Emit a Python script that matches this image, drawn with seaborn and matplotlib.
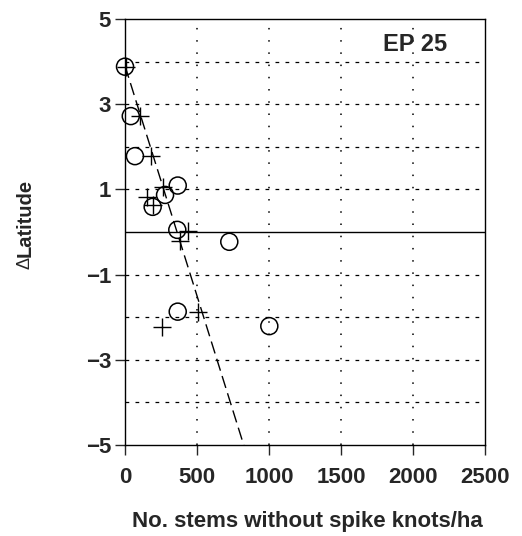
import numpy as np
import pandas as pd
import seaborn as sns
import matplotlib.pyplot as plt

# open circles
circle_x = [0, 40, 69, 366, 278, 192, 363, 724, 366, 1002]
circle_y = [3.88, 2.72, 1.78, 1.09, 0.87, 0.59, 0.05, -0.23, -1.87, -2.21]
# plus markers
plus_x = [10, 104, 178, 266, 150, 192, 440, 382, 509, 255]
plus_y = [3.88, 2.72, 1.79, 1.06, 0.83, 0.63, 0.02, -0.20, -1.89, -2.22]
# fitted line
fit_intercept = 3.9
fit_slope = -0.0108
fit_x = [0, 825]

sns.set_style("white")
plt.rcParams["font.family"] = ["Liberation Sans", "DejaVu Sans"]

fig = plt.figure(figsize=(5.22, 5.36), dpi=100)
ax = fig.add_axes([0.2395, 0.1698, 0.6897, 0.7948])

circles = pd.DataFrame({"x": circle_x, "y": circle_y})
pluses = pd.DataFrame({"x": plus_x, "y": plus_y})
fit = pd.DataFrame({"x": fit_x, "y": [fit_intercept + fit_slope * v for v in fit_x]})

# grid: dashed horizontal, dotted vertical
for v in [-4, -3, -2, -1, 1, 2, 3, 4]:
    ax.axhline(v, color="black", lw=0.9, ls=(0, (3, 5)), zorder=0)
for v in [500, 1000, 1500, 2000]:
    ax.axvline(v, color="black", lw=1.1, ls=(0, (1, 7)), zorder=0)
ax.axhline(0, color="black", lw=1.0, zorder=1)

sns.lineplot(data=fit, x="x", y="y", ax=ax, color="black", lw=1.0,
             dashes=False, linestyle=(0, (9, 4)))
sns.scatterplot(data=circles, x="x", y="y", ax=ax, marker="o", s=150,
                facecolor="none", edgecolor="black", linewidth=1.1, zorder=3,
                clip_on=False)
sns.scatterplot(data=pluses, x="x", y="y", ax=ax, marker="+", s=150,
                color="black", linewidth=1.0, zorder=3, clip_on=False)

ax.set_xlim(0, 2500)
ax.set_ylim(-5, 5)
ax.set_xticks([0, 500, 1000, 1500, 2000, 2500])
ax.set_yticks([-5, -3, -1, 1, 3, 5])
ax.set_yticklabels(["\u22125", "\u22123", "\u22121", "1", "3", "5"])
ax.tick_params(axis="x", direction="out", length=7, width=1, labelsize=16, pad=9)
ax.tick_params(axis="y", direction="out", length=7, width=1, labelsize=16, pad=3)
ax.tick_params(bottom=True, left=True)
for lab in ax.get_xticklabels() + ax.get_yticklabels():
    lab.set_fontweight("bold")
for sp in ax.spines.values():
    sp.set_visible(True)
    sp.set_color("black")
    sp.set_linewidth(1.0)

ax.set_xlabel("")
ax.set_ylabel("")
fig.text(307 / 522, 1 - 522 / 536, "No. stems without spike knots/ha", fontsize=16,
         fontweight="bold", ha="center", va="center")
fig.text(0.048, 1 - 218 / 536, "Latitude", rotation=90, fontsize=14.5,
         fontweight="bold", ha="center", va="center")
fig.text(0.048, 1 - 263 / 536, "\u0394", rotation=90, fontsize=13,
         ha="center", va="center")
ax.text(0.806, 0.939, "EP 25", transform=ax.transAxes, fontsize=17,
        fontweight="bold", ha="center", va="center")

fig.savefig("out.png", dpi=100)
